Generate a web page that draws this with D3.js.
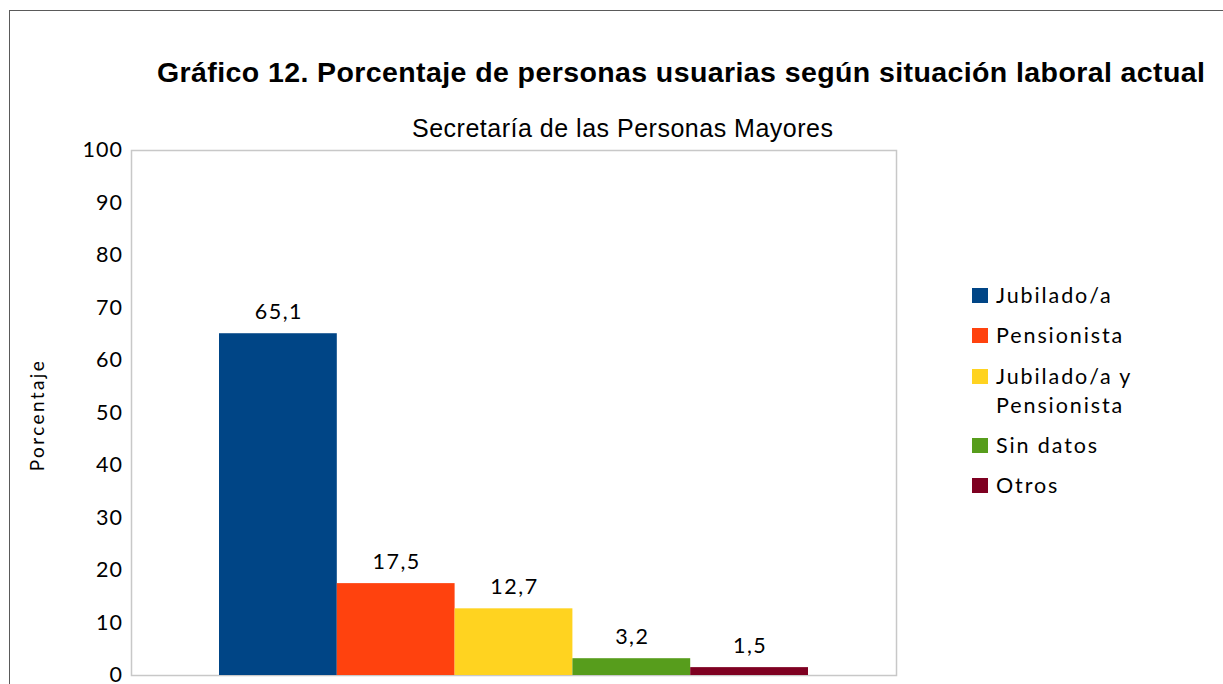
<!DOCTYPE html>
<html lang="es">
<head>
<meta charset="UTF-8">
<title>Gráfico 12</title>
<script src="https://d3js.org/d3.v7.min.js"></script>
<style>
  body { margin: 0; background: #fff; }
  svg { display: block; }
</style>
</head>
<body>
<div id="chart"></div>
<script>
// data
var categories = ['Jubilado/a', 'Pensionista', 'Jubilado/a y Pensionista', 'Sin datos', 'Otros'];
var values = [65.1, 17.5, 12.7, 3.2, 1.5];
var legendLines = [['Jubilado/a'], ['Pensionista'], ['Jubilado/a y', 'Pensionista'], ['Sin datos'], ['Otros']];
var colors = ['#004586', '#ff420e', '#ffd320', '#579d1c', '#7e0021'];
var yTicks = [0, 10, 20, 30, 40, 50, 60, 70, 80, 90, 100];

var width = 1223, height = 684;
var plot = {left: 131, top: 150, right: 896, bottom: 675};
var bodyFont = 'Lato, Carlito, sans-serif';

var svg = d3.select('#chart').append('svg')
    .attr('width', width)
    .attr('height', height);

// outer frame
svg.append('rect')
    .attr('x', 9.5).attr('y', 10.5)
    .attr('width', width).attr('height', height)
    .attr('fill', 'none')
    .attr('stroke', '#5a5a5a')
    .attr('stroke-width', 1);

// titles
svg.append('text')
    .attr('x', 157).attr('y', 82)
    .attr('textLength', 1048)
    .attr('lengthAdjust', 'spacing')
    .style('font-family', 'Liberation Sans, Arial, sans-serif')
    .style('font-weight', 'bold')
    .style('font-size', '28.5px')
    .text('Gráfico 12. Porcentaje de personas usuarias según situación laboral actual');

svg.append('text')
    .attr('x', 412).attr('y', 137)
    .attr('textLength', 421)
    .attr('lengthAdjust', 'spacing')
    .style('font-family', 'Liberation Sans, Arial, sans-serif')
    .style('font-size', '25px')
    .text('Secretaría de las Personas Mayores');

// scales
var x = d3.scaleBand()
    .domain(categories)
    .range([219, 808])
    .padding(0);

var y = d3.scaleLinear()
    .domain([0, 100])
    .range([plot.bottom, plot.top]);

// plot area
svg.append('rect')
    .attr('x', plot.left + 0.5).attr('y', plot.top + 0.5)
    .attr('width', plot.right - plot.left).attr('height', plot.bottom - plot.top)
    .attr('fill', 'none')
    .attr('stroke', '#c8c8c8')
    .attr('stroke-width', 1.5);

// y axis
var yAxis = d3.axisLeft(y)
    .tickValues(yTicks)
    .tickSize(0)
    .tickPadding(9);

var ya = svg.append('g')
    .attr('transform', 'translate(' + plot.left + ',0)')
    .call(yAxis);
ya.select('.domain').remove();
ya.selectAll('text')
    .style('font-family', bodyFont)
    .style('font-size', '21.5px')
    .style('letter-spacing', '1px')
    .attr('dx', '1px')
    .attr('fill', '#000');

// y axis title
svg.append('text')
    .attr('transform', 'translate(44,415) rotate(-90)')
    .attr('text-anchor', 'middle')
    .style('font-family', bodyFont)
    .style('font-size', '19px')
    .style('letter-spacing', '2.4px')
    .text('Porcentaje');

// bars
svg.selectAll('.bar')
    .data(values)
    .enter().append('rect')
    .attr('class', 'bar')
    .attr('x', function(d, i) { return x(categories[i]); })
    .attr('y', function(d) { return y(d); })
    .attr('width', x.bandwidth())
    .attr('height', function(d) { return y(0) - y(d); })
    .attr('fill', function(d, i) { return colors[i]; });

// value labels
svg.selectAll('.val')
    .data(values)
    .enter().append('text')
    .attr('class', 'val')
    .attr('x', function(d, i) { return x(categories[i]) + x.bandwidth() / 2 + 1; })
    .attr('y', function(d) { return y(d) - 14; })
    .attr('text-anchor', 'middle')
    .style('font-family', bodyFont)
    .style('font-size', '21.5px')
    .style('letter-spacing', '1.5px')
    .text(function(d) { return d3.format('.1f')(d).replace('.', ','); });

// legend
var legendY = [296, 336, 377, 446, 486];
var legend = svg.selectAll('.legend')
    .data(legendLines)
    .enter().append('g')
    .attr('class', 'legend')
    .attr('transform', function(d, i) { return 'translate(972,' + legendY[i] + ')'; });

legend.append('rect')
    .attr('x', 0).attr('y', -8)
    .attr('width', 16).attr('height', 15)
    .attr('fill', function(d, i) { return colors[i]; });

legend.append('text')
    .attr('x', 24)
    .attr('y', 7)
    .style('font-family', bodyFont)
    .style('font-size', '21.5px')
    .style('letter-spacing', '1.9px')
    .selectAll('tspan')
    .data(function(d) { return d; })
    .enter().append('tspan')
    .attr('x', 24)
    .attr('dy', function(d, i) { return i === 0 ? 0 : 29; })
    .text(function(d) { return d; });
</script>
</body>
</html>
